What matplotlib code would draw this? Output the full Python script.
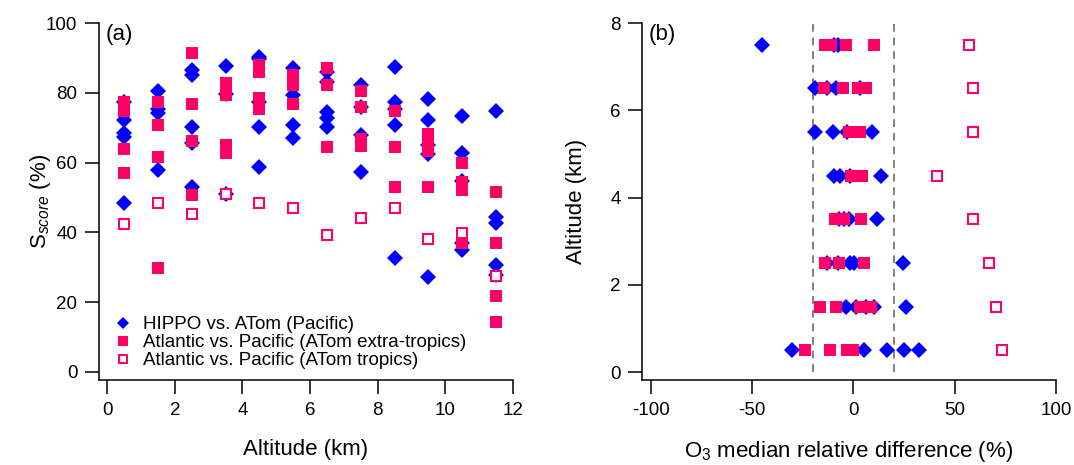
import numpy as np
import matplotlib.pyplot as plt

plt.rcParams['font.family'] = ['Liberation Sans', 'DejaVu Sans']
plt.rcParams['mathtext.fontset'] = 'custom'
plt.rcParams['mathtext.rm'] = 'Liberation Sans'
plt.rcParams['mathtext.it'] = 'Liberation Sans:italic'
plt.rcParams['axes.unicode_minus'] = False

# panel (a): S_score per altitude bin
alt_a = [0.5, 1.5, 2.5, 3.5, 4.5, 5.5, 6.5, 7.5, 8.5, 9.5, 10.5, 11.5]
hippo_s = [
    [77.5, 72.2, 68.6, 67.4, 48.5],
    [80.6, 75.4, 74.1, 57.9],
    [86.5, 85.1, 70.1, 65.7, 53.1],
    [87.7, 79.6, 50.9],
    [90.3, 89.6, 77.5, 70.3, 58.8],
    [87.0, 79.4, 70.8, 67.0],
    [86.0, 83.0, 74.6, 72.9, 70.1],
    [82.2, 76.0, 67.9, 57.2],
    [87.5, 77.5, 75.4, 70.8, 32.6],
    [78.2, 72.2, 65.0, 62.5, 27.3],
    [73.4, 62.7, 54.8, 37.0, 35.0],
    [74.8, 44.5, 42.8, 30.7, 27.8],
]
extra_s = [
    [77.4, 74.9, 63.8, 56.9],
    [77.5, 70.8, 61.7, 29.7],
    [91.5, 76.8, 66.2, 50.7],
    [82.7, 79.4, 65.0, 62.7],
    [88.0, 86.0, 78.4, 75.3],
    [85.1, 82.2, 76.7],
    [87.2, 82.2, 64.6],
    [80.5, 76.0, 66.7, 64.8],
    [74.8, 64.6, 52.9],
    [68.2, 65.8, 63.4, 52.9],
    [60.0, 54.5, 52.1, 37.1],
    [51.7, 37.1, 21.8, 14.4],
]
tropics_s = [42.3, 48.5, 45.3, 50.9, 48.3, 47.1, 39.3, 44.0, 46.9, 38.1, 39.7, 27.5]

# panel (b): O3 median relative difference per altitude bin
alt_b = [0.5, 1.5, 2.5, 3.5, 4.5, 5.5, 6.5, 7.5]
hippo_o3 = [
    [-30.3, 5.1, 16.6, 24.9, 32.6],
    [-3.5, 1.5, 6.4, 10.4, 26.2],
    [-13.0, -7.7, -1.8, 0.2, 24.5],
    [-7.0, -4.8, -2.3, 11.7],
    [-9.5, -6.5, -1.8, 13.7],
    [-18.8, -10.0, -3.1, 9.2],
    [-18.8, -13.0, -8.5, 3.1],
    [-44.8, -9.7, -7.4],
]
extra_o3 = [
    [-24.0, -11.7, -3.1, -0.3],
    [-16.3, -8.4, 3.1, 8.7],
    [-13.8, -7.2, 5.4],
    [-9.2, -4.4, 3.8],
    [-1.2, 1.5, 4.3],
    [-2.3, 0.5, 3.1],
    [-14.3, -5.0, 2.1, 6.4],
    [-14.0, -11.0, -3.5, 10.0],
]
tropics_o3 = [73.1, 70.6, 66.8, 59.0, 41.3, 59.0, 59.1, 56.9]

labels = ['HIPPO vs. ATom (Pacific)',
          'Atlantic vs. Pacific (ATom extra-tropics)',
          'Atlantic vs. Pacific (ATom tropics)']

blue = '#0000FF'
pink = '#FF0066'


def flat(alts, groups):
    xs, ys = [], []
    for a, g in zip(alts, groups):
        xs += [a] * len(g)
        ys += list(g)
    return np.array(xs), np.array(ys)


def style(ax):
    for s in ['top', 'right']:
        ax.spines[s].set_visible(False)
    for s in ['left', 'bottom']:
        ax.spines[s].set_linewidth(1.1)
    ax.tick_params(direction='out', length=10, width=1.1, pad=5.5, labelsize=13.5)


fig = plt.figure(figsize=(10.74, 4.65), dpi=100)
ax1 = fig.add_axes([0.0922, 0.1828, 0.3855, 0.7677])
ax2 = fig.add_axes([0.5978, 0.1828, 0.3855, 0.7677])

# (a)
x, y = flat(alt_a, hippo_s)
ax1.plot(x, y, 'D', color=blue, ms=8.2, mew=0, label=labels[0], clip_on=False)
x, y = flat(alt_a, extra_s)
ax1.plot(x, y, 's', color=pink, ms=8.6, mew=0, label=labels[1], clip_on=False)
ax1.plot(alt_a, tropics_s, 's', mfc='white', mec=pink, ms=7.5, mew=1.5,
         label=labels[2], clip_on=False)
ax1.set_xlim(-0.24, 12)
ax1.set_ylim(-2.3, 100)
ax1.set_xticks(np.arange(0, 13, 2))
ax1.set_yticks(np.arange(0, 101, 20))
style(ax1)
ax1.set_xlabel('Altitude (km)', fontsize=16)
ax1.set_ylabel('S$_{score}$ (%)', fontsize=16)
ax1.xaxis.set_label_coords(0.5, -0.165)
ax1.yaxis.set_label_coords(-0.11, 0.5)
ax1.text(0.015, 0.998, '(a)', transform=ax1.transAxes, fontsize=16,
         ha='left', va='top')
ax1.legend(loc='lower left', bbox_to_anchor=(0.035, 0.03), frameon=False,
           fontsize=13.5, handlelength=1.0, handletextpad=0.55,
           labelspacing=0.05, borderpad=0, borderaxespad=0, markerscale=0.8,
           numpoints=1)

# (b)
ax2.vlines([-20, 20], 0, 8, colors='#808080', linestyles=(0, (4, 3)), lw=1.4)
x, y = flat(alt_b, hippo_o3)
ax2.plot(y, x, 'D', color=blue, ms=8.2, mew=0)
x, y = flat(alt_b, extra_o3)
ax2.plot(y, x, 's', color=pink, ms=8.6, mew=0)
ax2.plot(tropics_o3, alt_b, 's', mfc='white', mec=pink, ms=7.5, mew=1.5)
ax2.set_xlim(-104.2, 100)
ax2.set_ylim(-0.18, 8)
ax2.set_xticks([-100, -50, 0, 50, 100])
ax2.set_yticks(np.arange(0, 9, 2))
style(ax2)
ax2.set_xlabel(r'O$_\mathrm{3}$ median relative difference (%)', fontsize=16)
ax2.set_ylabel('Altitude (km)', fontsize=16)
ax2.xaxis.set_label_coords(0.5, -0.165)
ax2.yaxis.set_label_coords(-0.133, 0.5)
ax2.text(0.015, 0.998, '(b)', transform=ax2.transAxes, fontsize=16,
         ha='left', va='top')

fig.savefig('out.png', dpi=100)
